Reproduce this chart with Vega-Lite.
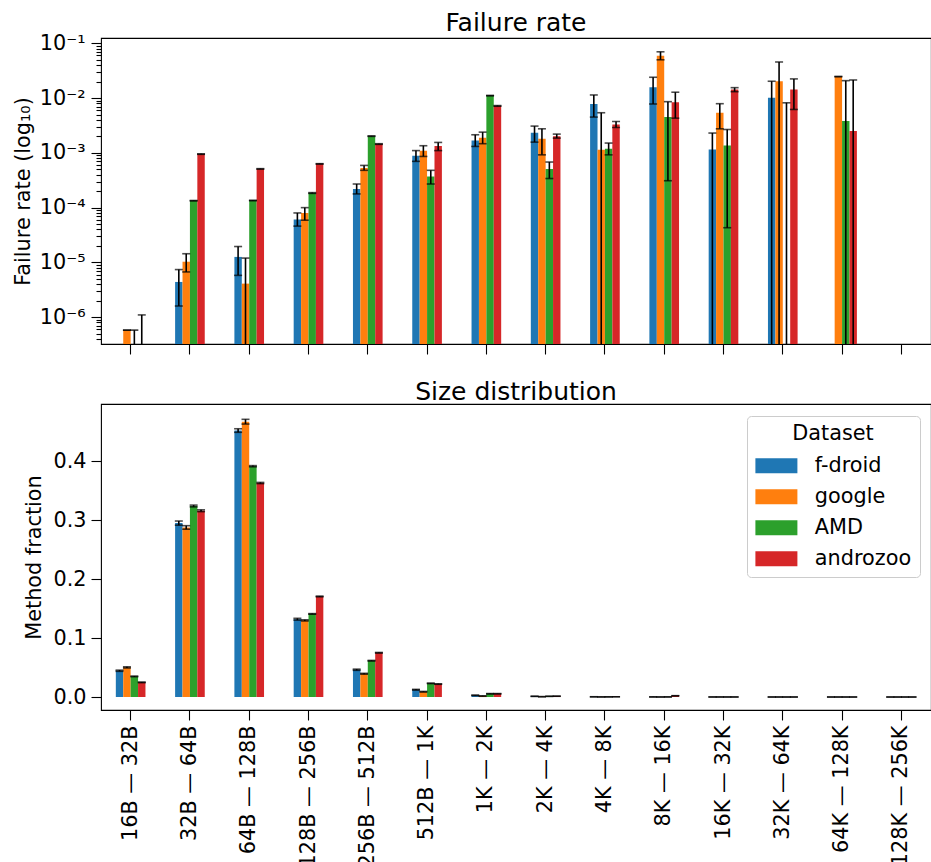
{
  "$schema": "https://vega.github.io/schema/vega-lite/v6.json",
  "padding": {"left": 11, "top": 10, "right": 0, "bottom": 0},
  "background": "white",
  "config": {
    "font": "DejaVu Sans",
    "view": {"stroke": "black", "strokeWidth": 1.1},
    "axis": {"domain": false, "grid": false, "tickColor": "black", "tickWidth": 1.1, "tickSize": 10, "labelPadding": 5, "labelFontSize": 20.8, "labelColor": "black", "titleFontSize": 20.8, "titleFontWeight": "normal", "titleColor": "black", "labelFont": "DejaVu Sans", "titleFont": "DejaVu Sans", "titlePadding": 4},
    "title": {"fontSize": 25, "fontWeight": "normal", "color": "black", "font": "DejaVu Sans", "baseline": "alphabetic", "frame": "group"}
  },
  "datasets": {
    "d": [
      {"c": "16B — 32B", "d": "f-droid", "fr": null, "frlo": null, "frhi": null, "mf": 0.0446, "mflo": 0.0436, "mfhi": 0.0456},
      {"c": "16B — 32B", "d": "google", "fr": 5.8e-7, "frlo": 5.8e-7, "frhi": 5.8e-7, "mf": 0.0503, "mflo": 0.0493, "mfhi": 0.0513},
      {"c": "16B — 32B", "d": "AMD", "fr": null, "frlo": 1e-9, "frhi": 5.8e-7, "mf": 0.035, "mflo": 0.0343, "mfhi": 0.0357},
      {"c": "16B — 32B", "d": "androzoo", "fr": null, "frlo": 1e-9, "frhi": 1.1e-6, "mf": 0.0249, "mflo": 0.0244, "mfhi": 0.0254},
      {"c": "32B — 64B", "d": "f-droid", "fr": 4.4e-6, "frlo": 1.6e-6, "frhi": 7.4e-6, "mf": 0.295, "mflo": 0.2915, "mfhi": 0.2985},
      {"c": "32B — 64B", "d": "google", "fr": 1.03e-5, "frlo": 6.7e-6, "frhi": 1.44e-5, "mf": 0.2876, "mflo": 0.2846, "mfhi": 0.2906},
      {"c": "32B — 64B", "d": "AMD", "fr": 1.34e-4, "frlo": 1.33e-4, "frhi": 1.35e-4, "mf": 0.324, "mflo": 0.3225, "mfhi": 0.3255},
      {"c": "32B — 64B", "d": "androzoo", "fr": 9.5e-4, "frlo": 9.4e-4, "frhi": 9.6e-4, "mf": 0.316, "mflo": 0.3145, "mfhi": 0.3175},
      {"c": "64B — 128B", "d": "f-droid", "fr": 1.26e-5, "frlo": 5.8e-6, "frhi": 1.95e-5, "mf": 0.452, "mflo": 0.449, "mfhi": 0.455},
      {"c": "64B — 128B", "d": "google", "fr": 4.1e-6, "frlo": 1e-9, "frhi": 1.2e-5, "mf": 0.467, "mflo": 0.463, "mfhi": 0.471},
      {"c": "64B — 128B", "d": "AMD", "fr": 1.35e-4, "frlo": 1.34e-4, "frhi": 1.36e-4, "mf": 0.3915, "mflo": 0.3905, "mfhi": 0.3925},
      {"c": "64B — 128B", "d": "androzoo", "fr": 5.1e-4, "frlo": 5.05e-4, "frhi": 5.15e-4, "mf": 0.363, "mflo": 0.362, "mfhi": 0.364},
      {"c": "128B — 256B", "d": "f-droid", "fr": 6.1e-5, "frlo": 4.6e-5, "frhi": 8.0e-5, "mf": 0.132, "mflo": 0.1305, "mfhi": 0.1335},
      {"c": "128B — 256B", "d": "google", "fr": 8.0e-5, "frlo": 5.9e-5, "frhi": 1.0e-4, "mf": 0.13, "mflo": 0.129, "mfhi": 0.131},
      {"c": "128B — 256B", "d": "AMD", "fr": 1.85e-4, "frlo": 1.82e-4, "frhi": 1.88e-4, "mf": 0.141, "mflo": 0.1405, "mfhi": 0.1415},
      {"c": "128B — 256B", "d": "androzoo", "fr": 6.3e-4, "frlo": 6.25e-4, "frhi": 6.35e-4, "mf": 0.1706, "mflo": 0.17, "mfhi": 0.1712},
      {"c": "256B — 512B", "d": "f-droid", "fr": 2.19e-4, "frlo": 1.78e-4, "frhi": 2.7e-4, "mf": 0.0463, "mflo": 0.0453, "mfhi": 0.0473},
      {"c": "256B — 512B", "d": "google", "fr": 5.3e-4, "frlo": 4.8e-4, "frhi": 5.9e-4, "mf": 0.0395, "mflo": 0.0388, "mfhi": 0.0402},
      {"c": "256B — 512B", "d": "AMD", "fr": 2.02e-3, "frlo": 2.0e-3, "frhi": 2.04e-3, "mf": 0.0616, "mflo": 0.0611, "mfhi": 0.0621},
      {"c": "256B — 512B", "d": "androzoo", "fr": 1.45e-3, "frlo": 1.43e-3, "frhi": 1.47e-3, "mf": 0.0751, "mflo": 0.0746, "mfhi": 0.0756},
      {"c": "512B — 1K", "d": "f-droid", "fr": 8.9e-4, "frlo": 7.0e-4, "frhi": 1.1e-3, "mf": 0.0124, "mflo": 0.0118, "mfhi": 0.013},
      {"c": "512B — 1K", "d": "google", "fr": 1.09e-3, "frlo": 8.6e-4, "frhi": 1.35e-3, "mf": 0.009, "mflo": 0.0085, "mfhi": 0.0095},
      {"c": "512B — 1K", "d": "AMD", "fr": 3.7e-4, "frlo": 2.7e-4, "frhi": 4.8e-4, "mf": 0.0232, "mflo": 0.0228, "mfhi": 0.0236},
      {"c": "512B — 1K", "d": "androzoo", "fr": 1.33e-3, "frlo": 1.1e-3, "frhi": 1.55e-3, "mf": 0.022, "mflo": 0.0216, "mfhi": 0.0224},
      {"c": "1K — 2K", "d": "f-droid", "fr": 1.68e-3, "frlo": 1.31e-3, "frhi": 2.14e-3, "mf": 0.0029, "mflo": 0.0025, "mfhi": 0.0033},
      {"c": "1K — 2K", "d": "google", "fr": 1.88e-3, "frlo": 1.47e-3, "frhi": 2.39e-3, "mf": 0.0017, "mflo": 0.0013, "mfhi": 0.0021},
      {"c": "1K — 2K", "d": "AMD", "fr": 1.11e-2, "frlo": 1.1e-2, "frhi": 1.12e-2, "mf": 0.0056, "mflo": 0.0053, "mfhi": 0.0059},
      {"c": "1K — 2K", "d": "androzoo", "fr": 7.2e-3, "frlo": 7.1e-3, "frhi": 7.3e-3, "mf": 0.0056, "mflo": 0.0053, "mfhi": 0.0059},
      {"c": "2K — 4K", "d": "f-droid", "fr": 2.32e-3, "frlo": 1.57e-3, "frhi": 3.08e-3, "mf": 0.0012, "mflo": 0.001, "mfhi": 0.0014},
      {"c": "2K — 4K", "d": "google", "fr": 1.81e-3, "frlo": 9.2e-4, "frhi": 2.75e-3, "mf": 0.0006, "mflo": 0.0004, "mfhi": 0.0008},
      {"c": "2K — 4K", "d": "AMD", "fr": 5.1e-4, "frlo": 3.4e-4, "frhi": 6.8e-4, "mf": 0.0012, "mflo": 0.0011, "mfhi": 0.0013},
      {"c": "2K — 4K", "d": "androzoo", "fr": 2.02e-3, "frlo": 1.86e-3, "frhi": 2.2e-3, "mf": 0.0014, "mflo": 0.0013, "mfhi": 0.0015},
      {"c": "4K — 8K", "d": "f-droid", "fr": 7.8e-3, "frlo": 4.5e-3, "frhi": 1.14e-2, "mf": 0.0004, "mflo": 0.0003, "mfhi": 0.0005},
      {"c": "4K — 8K", "d": "google", "fr": 1.14e-3, "frlo": 1e-9, "frhi": 5.4e-3, "mf": 0.0002, "mflo": 0.0001, "mfhi": 0.0003},
      {"c": "4K — 8K", "d": "AMD", "fr": 1.19e-3, "frlo": 9.2e-4, "frhi": 1.51e-3, "mf": 0.0003, "mflo": 0.00025, "mfhi": 0.00035},
      {"c": "4K — 8K", "d": "androzoo", "fr": 3.3e-3, "frlo": 2.9e-3, "frhi": 3.73e-3, "mf": 0.0005, "mflo": 0.00045, "mfhi": 0.00055},
      {"c": "8K — 16K", "d": "f-droid", "fr": 1.58e-2, "frlo": 7.8e-3, "frhi": 2.4e-2, "mf": 0.0002, "mflo": 0.0001, "mfhi": 0.0003},
      {"c": "8K — 16K", "d": "google", "fr": 5.9e-2, "frlo": 5.0e-2, "frhi": 7.0e-2, "mf": 0.0001, "mflo": 0.00005, "mfhi": 0.00015},
      {"c": "8K — 16K", "d": "AMD", "fr": 4.5e-3, "frlo": 3.1e-4, "frhi": 8.6e-3, "mf": 0.0002, "mflo": 0.00015, "mfhi": 0.00025},
      {"c": "8K — 16K", "d": "androzoo", "fr": 8.4e-3, "frlo": 4.3e-3, "frhi": 1.28e-2, "mf": 0.0022, "mflo": 0.0021, "mfhi": 0.0023},
      {"c": "16K — 32K", "d": "f-droid", "fr": 1.15e-3, "frlo": 1e-9, "frhi": 2.3e-3, "mf": 0.0001, "mflo": 0.00005, "mfhi": 0.00015},
      {"c": "16K — 32K", "d": "google", "fr": 5.4e-3, "frlo": 2.75e-3, "frhi": 7.9e-3, "mf": 0.0001, "mflo": 0.00005, "mfhi": 0.00015},
      {"c": "16K — 32K", "d": "AMD", "fr": 1.36e-3, "frlo": 4.3e-5, "frhi": 2.67e-3, "mf": 0.0001, "mflo": 0.00008, "mfhi": 0.00012},
      {"c": "16K — 32K", "d": "androzoo", "fr": 1.43e-2, "frlo": 1.31e-2, "frhi": 1.55e-2, "mf": 0.0001, "mflo": 0.00008, "mfhi": 0.00012},
      {"c": "32K — 64K", "d": "f-droid", "fr": 1.01e-2, "frlo": 1e-9, "frhi": 2.03e-2, "mf": 0.00005, "mflo": 0.00002, "mfhi": 0.00008},
      {"c": "32K — 64K", "d": "google", "fr": 2.03e-2, "frlo": 1e-9, "frhi": 4.56e-2, "mf": 0.00005, "mflo": 0.00002, "mfhi": 0.00008},
      {"c": "32K — 64K", "d": "AMD", "fr": null, "frlo": 1e-9, "frhi": 8.2e-3, "mf": 0.00005, "mflo": 0.00002, "mfhi": 0.00008},
      {"c": "32K — 64K", "d": "androzoo", "fr": 1.43e-2, "frlo": 6.2e-3, "frhi": 2.24e-2, "mf": 0.00005, "mflo": 0.00002, "mfhi": 0.00008},
      {"c": "64K — 128K", "d": "f-droid", "fr": null, "frlo": null, "frhi": null, "mf": 0.00003, "mflo": 0.00001, "mfhi": 0.00005},
      {"c": "64K — 128K", "d": "google", "fr": 2.47e-2, "frlo": 2.47e-2, "frhi": 2.47e-2, "mf": 0.00003, "mflo": 0.00001, "mfhi": 0.00005},
      {"c": "64K — 128K", "d": "AMD", "fr": 3.8e-3, "frlo": 1e-9, "frhi": 2.08e-2, "mf": 0.00003, "mflo": 0.00001, "mfhi": 0.00005},
      {"c": "64K — 128K", "d": "androzoo", "fr": 2.5e-3, "frlo": 1e-9, "frhi": 2.14e-2, "mf": 0.00003, "mflo": 0.00001, "mfhi": 0.00005},
      {"c": "128K — 256K", "d": "f-droid", "fr": null, "frlo": null, "frhi": null, "mf": 0.00002, "mflo": 0.00001, "mfhi": 0.00003},
      {"c": "128K — 256K", "d": "google", "fr": null, "frlo": null, "frhi": null, "mf": 0.00002, "mflo": 0.00001, "mfhi": 0.00003},
      {"c": "128K — 256K", "d": "AMD", "fr": null, "frlo": null, "frhi": null, "mf": 0.00002, "mflo": 0.00001, "mfhi": 0.00003},
      {"c": "128K — 256K", "d": "androzoo", "fr": null, "frlo": null, "frhi": null, "mf": 0.00002, "mflo": 0.00001, "mfhi": 0.00003}
    ]
  },
  "data": {"name": "d"},
  "spacing": 23,
  "resolve": {"scale": {"color": "independent"}, "legend": {"color": "independent"}},
  "vconcat": [
    {
      "title": {"text": "Failure rate", "offset": -4},
      "width": 830,
      "height": 306,
      "encoding": {
        "x": {"field": "c", "type": "nominal", "sort": null, "scale": {"domain": ["16B — 32B","32B — 64B","64B — 128B","128B — 256B","256B — 512B","512B — 1K","1K — 2K","2K — 4K","4K — 8K","8K — 16K","16K — 32K","32K — 64K","64K — 128K","128K — 256K"], "paddingInner": 0.5, "paddingOuter": 0.25}, "axis": {"labels": false, "title": null}},
        "xOffset": {"field": "d", "type": "nominal", "scale": {"domain": ["f-droid","google","AMD","androzoo"], "paddingInner": 0, "paddingOuter": 0}}
      },
      "layer": [
        {
          "mark": {"type": "bar", "clip": true},
          "encoding": {
            "y": {"field": "fr", "type": "quantitative", "title": "Failure rate (log₁₀)",
              "scale": {"type": "log", "domain": [3.24e-7, 0.125], "nice": false},
              "axis": {
                "values": [4e-7,5e-7,6e-7,7e-7,8e-7,9e-7,1e-6,2e-6,3e-6,4e-6,5e-6,6e-6,7e-6,8e-6,9e-6,1e-5,2e-5,3e-5,4e-5,5e-5,6e-5,7e-5,8e-5,9e-5,1e-4,2e-4,3e-4,4e-4,5e-4,6e-4,7e-4,8e-4,9e-4,1e-3,2e-3,3e-3,4e-3,5e-3,6e-3,7e-3,8e-3,9e-3,1e-2,2e-2,3e-2,4e-2,5e-2,6e-2,7e-2,8e-2,9e-2,1e-1],
                "labelExpr": "datum.value == 1e-1 ? '10⁻¹' : datum.value == 1e-2 ? '10⁻²' : datum.value == 1e-3 ? '10⁻³' : datum.value == 1e-4 ? '10⁻⁴' : datum.value == 1e-5 ? '10⁻⁵' : datum.value == 1e-6 ? '10⁻⁶' : ''",
                "labelOverlap": false,
                "labelPadding": 6,
                "titlePadding": 6,
                "tickSize": {"condition": {"test": "indexof([1e-6,1e-5,1e-4,1e-3,1e-2,1e-1], datum.value) < 0", "value": 5}, "value": 10}
              }
            },
            "y2": {"datum": 3.24e-7},
            "color": {"field": "d", "type": "nominal", "scale": {"domain": ["f-droid","google","AMD","androzoo"], "range": ["#1f77b4","#ff7f0e","#2ca02c","#d62728"]}, "legend": null}
          }
        },
        {
          "mark": {"type": "rule", "clip": true, "color": "black", "strokeWidth": 1.6},
          "encoding": {"y": {"field": "frlo", "type": "quantitative", "title": "Failure rate (log₁₀)"}, "y2": {"field": "frhi"}}
        },
        {
          "mark": {"type": "tick", "clip": true, "color": "black", "thickness": 1.6, "size": 8},
          "encoding": {"y": {"field": "frhi", "type": "quantitative", "title": "Failure rate (log₁₀)"}}
        },
        {
          "mark": {"type": "tick", "clip": true, "color": "black", "thickness": 1.6, "size": 8},
          "encoding": {"y": {"field": "frlo", "type": "quantitative", "title": "Failure rate (log₁₀)"}}
        }
      ]
    },
    {
      "title": {"text": "Size distribution", "offset": -1},
      "width": 830,
      "height": 306,
      "encoding": {
        "x": {"field": "c", "type": "nominal", "sort": null, "scale": {"domain": ["16B — 32B","32B — 64B","64B — 128B","128B — 256B","256B — 512B","512B — 1K","1K — 2K","2K — 4K","4K — 8K","8K — 16K","16K — 32K","32K — 64K","64K — 128K","128K — 256K"], "paddingInner": 0.5, "paddingOuter": 0.25}, "axis": {"labelAngle": -90, "title": null}},
        "xOffset": {"field": "d", "type": "nominal", "scale": {"domain": ["f-droid","google","AMD","androzoo"], "paddingInner": 0, "paddingOuter": 0}}
      },
      "layer": [
        {
          "mark": {"type": "bar", "clip": true},
          "encoding": {
            "y": {"field": "mf", "type": "quantitative", "title": "Method fraction",
              "scale": {"domain": [-0.022, 0.497], "nice": false, "zero": false},
              "axis": {"values": [0, 0.1, 0.2, 0.3, 0.4], "format": ".1f", "titlePadding": 8}
            },
            "color": {"field": "d", "type": "nominal", "scale": {"domain": ["f-droid","google","AMD","androzoo"], "range": ["#1f77b4","#ff7f0e","#2ca02c","#d62728"]},
              "legend": {"orient": "none", "legendX": 646, "legendY": 12, "title": "Dataset", "titleAnchor": "middle", "titleFontSize": 20.8, "titleFontWeight": "normal", "titleColor": "black", "labelFontSize": 20.8, "labelColor": "black", "symbolType": "M-2.8,-1H2.8V1H-2.8Z", "symbolSize": 225, "symbolStrokeWidth": 0, "symbolOpacity": 1, "padding": 8, "strokeColor": "#cccccc", "fillColor": "white", "cornerRadius": 4, "rowPadding": 9, "labelOffset": 28, "symbolOffset": 11, "titlePadding": 10.5}
            }
          }
        },
        {
          "mark": {"type": "rule", "clip": true, "color": "black", "strokeWidth": 1.6},
          "encoding": {"y": {"field": "mflo", "type": "quantitative", "title": "Method fraction"}, "y2": {"field": "mfhi"}}
        },
        {
          "mark": {"type": "tick", "clip": true, "color": "black", "thickness": 1.6, "size": 8},
          "encoding": {"y": {"field": "mfhi", "type": "quantitative", "title": "Method fraction"}}
        },
        {
          "mark": {"type": "tick", "clip": true, "color": "black", "thickness": 1.6, "size": 8},
          "encoding": {"y": {"field": "mflo", "type": "quantitative", "title": "Method fraction"}}
        }
      ]
    }
  ]
}
